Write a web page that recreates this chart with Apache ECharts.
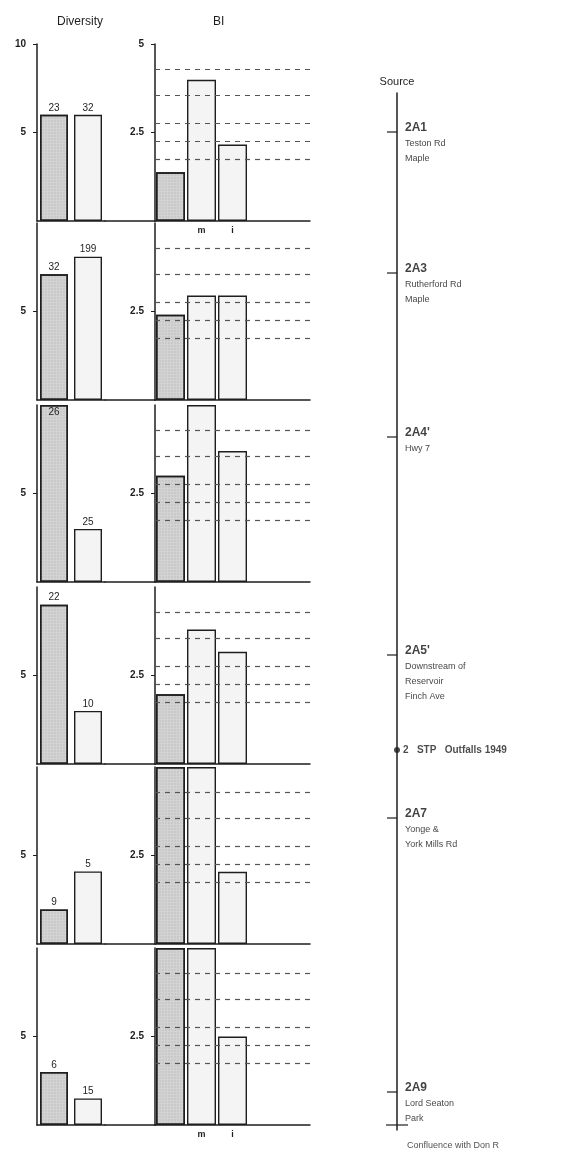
<!DOCTYPE html>
<html>
<head>
<meta charset="utf-8">
<script src="https://cdn.jsdelivr.net/npm/echarts@6/dist/echarts.min.js"></script>
<style>
  html, body { margin: 0; padding: 0; background: #fff; }
  #main { width: 561px; height: 1160px; }
</style>
</head>
<body>
<div id="main"></div>
<script>
// Diversity column, one value per station (top to bottom)
var divShaded = [6.0, 7.1, 10, 9.0, 1.95, 3.0]
var divLight = [6.0, 8.1, 3.0, 3.0, 4.1, 1.5]
var divShadedN = ['23', '32', '26', '22', '9', '6']   // numbers printed on the bars
var divLightN = ['32', '199', '25', '10', '5', '15']

// BI column
var biCats = ['', 'm', 'i', '', '']
var biShaded = [1.38, 2.41, 3.0, 1.97, 5, 5]
var biM = [3.99, 2.95, 5, 3.8, 5, 5]
var biI = [2.16, 2.95, 3.7, 3.17, 2.04, 2.5]
var biRefLines = [4.3, 3.55, 2.77, 2.25, 1.75]  // dashed class lines

// stations down the river (distance from source, drawing units)
var stationCodes = ['2A1', '2A3', "2A4'", "2A5'", '2A7', '2A9']
var stationPlaces = ['Teston Rd\nMaple', 'Rutherford Rd\nMaple', 'Hwy 7',
  'Downstream of\nReservoir\nFinch Ave', 'Yonge &\nYork Mills Rd', 'Lord Seaton\nPark']
var stationPos = [39, 180, 344, 562, 725, 999]
var stpPos = 657
var mouthPos = 1032
var riverLength = 1037

var FONT = 'Liberation Sans'
var INK = '#1e1e1e'
var rowTop = [44, 223, 405, 587, 767, 948]
var rowH = 177

var shadedStyle = {
  color: '#d3d3d3', borderColor: INK, borderWidth: 1.5,
  decal: { symbol: 'circle', symbolSize: 0.9, dashArrayX: [2, 1], dashArrayY: [2, 1], color: 'rgba(0,0,0,0.07)' }
}
var lightStyle = { color: '#f4f4f4', borderColor: INK, borderWidth: 1.4 }
var axisLine = { show: true, lineStyle: { color: INK, width: 1.5 } }

var grid = [], xAxis = [], yAxis = [], series = []

for (var r = 0; r < 6; r++) {
  var g = grid.length
  var first = r === 0
  var last = r === 5

  // diversity
  grid.push({ left: 37, top: rowTop[r], width: 68, height: rowH })
  xAxis.push({ gridIndex: g, type: 'category', data: ['a', 'b'], axisLine: axisLine,
    axisTick: { show: false }, axisLabel: { show: false } })
  yAxis.push({ gridIndex: g, type: 'value', min: 0, max: 10, interval: 5, axisLine: axisLine,
    splitLine: { show: false },
    axisTick: { show: true, length: 4, lineStyle: { color: INK }, customValues: first ? [5, 10] : [5] },
    axisLabel: { margin: 11, color: INK, fontSize: 10, fontWeight: 'bold', fontFamily: FONT,
      customValues: first ? [5, 10] : [5] } })
  series.push({
    type: 'bar', xAxisIndex: g, yAxisIndex: g, barWidth: 28,
    label: { show: true, color: INK, fontSize: 10, fontFamily: FONT, distance: 2 },
    data: [
      { value: divShaded[r], itemStyle: shadedStyle,
        label: { formatter: divShadedN[r], position: divShaded[r] >= 10 ? 'insideTop' : 'top' } },
      { value: divLight[r], itemStyle: lightStyle,
        label: { formatter: divLightN[r], position: divLight[r] >= 10 ? 'insideTop' : 'top' } }
    ]
  })

  // baseline between the two panels
  grid.push({ left: 105, top: rowTop[r], width: 50, height: rowH })
  xAxis.push({ gridIndex: g + 1, type: 'category', data: [''], axisLine: axisLine,
    axisTick: { show: false }, axisLabel: { show: false } })
  yAxis.push({ gridIndex: g + 1, type: 'value', show: false })

  // BI
  grid.push({ left: 155, top: rowTop[r], width: 155, height: rowH })
  xAxis.push({ gridIndex: g + 2, type: 'category', data: biCats, axisLine: axisLine,
    axisTick: { show: false },
    axisLabel: { show: first || last, margin: 5, color: INK, fontSize: 9, fontWeight: 'bold', fontFamily: FONT } })
  yAxis.push({ gridIndex: g + 2, type: 'value', min: 0, max: 5, interval: 2.5, axisLine: axisLine,
    splitLine: { show: false },
    axisTick: { show: true, length: 4, lineStyle: { color: INK }, customValues: first ? [2.5, 5] : [2.5] },
    axisLabel: { margin: 11, color: INK, fontSize: 10, fontWeight: 'bold', fontFamily: FONT,
      customValues: first ? [2.5, 5] : [2.5] } })
  series.push({
    type: 'bar', xAxisIndex: g + 2, yAxisIndex: g + 2, barWidth: 29,
    data: [
      { value: biShaded[r], itemStyle: shadedStyle },
      { value: biM[r], itemStyle: lightStyle },
      { value: biI[r], itemStyle: lightStyle },
      '-', '-'
    ],
    markLine: {
      silent: true, symbol: 'none', label: { show: false },
      lineStyle: { type: [5, 5], color: '#555', width: 1.2 },
      data: biRefLines.map(function (v) { return { yAxis: v } })
    }
  })
}

// river line on the right
var rg = grid.length
grid.push({ left: 397, top: 93, width: 2, height: 1037 })
xAxis.push({ gridIndex: rg, type: 'value', min: 0, max: 2, show: false })
yAxis.push({ gridIndex: rg, type: 'value', inverse: true, min: 0, max: riverLength,
  axisLine: axisLine, axisTick: { show: false }, axisLabel: { show: false }, splitLine: { show: false },
  name: 'Source', nameLocation: 'start', nameGap: 6,
  nameTextStyle: { fontSize: 11, color: INK, fontFamily: FONT } })

series.push({
  type: 'scatter', xAxisIndex: rg, yAxisIndex: rg,
  symbol: 'rect', symbolSize: [10, 1.5], symbolOffset: [-5, 0],
  itemStyle: { color: INK },
  label: {
    show: true, position: 'right', verticalAlign: 'top', offset: [3, -12],
    color: '#111', fontFamily: FONT,
    formatter: function (p) {
      var i = p.dataIndex
      return '{a|' + stationCodes[i] + '}\n{b|' + stationPlaces[i].split('\n').join('}\n{b|') + '}'
    },
    rich: {
      a: { fontSize: 12, lineHeight: 16, color: '#111', fontWeight: 'bold', fontFamily: FONT },
      b: { fontSize: 9, lineHeight: 15, color: '#111', fontFamily: FONT }
    }
  },
  data: stationPos.map(function (p) { return [0, p] })
})
series.push({
  type: 'scatter', xAxisIndex: rg, yAxisIndex: rg,
  symbol: 'circle', symbolSize: 6, itemStyle: { color: INK },
  label: { show: true, position: 'right', distance: 3, formatter: '2   STP   Outfalls 1949',
    fontSize: 10, fontWeight: 'bold', color: INK, fontFamily: FONT },
  data: [[0, stpPos]]
})
series.push({
  type: 'scatter', xAxisIndex: rg, yAxisIndex: rg,
  symbol: 'rect', symbolSize: [22, 1.5], itemStyle: { color: INK },
  label: { show: true, position: 'bottom', distance: 15, offset: [56, 0], formatter: 'Confluence with Don R',
    fontSize: 9, color: INK, fontFamily: FONT },
  data: [[0, mouthPos]]
})

var chart = echarts.init(document.getElementById('main'), null, { renderer: 'canvas' })
chart.setOption({
  animation: false,
  backgroundColor: '#ffffff',
  textStyle: { fontFamily: FONT },
  title: [
    { text: 'Diversity', left: 52, top: 11, textStyle: { fontSize: 12, fontWeight: 'normal', color: INK, fontFamily: FONT } },
    { text: 'BI', left: 208, top: 11, textStyle: { fontSize: 12, fontWeight: 'normal', color: INK, fontFamily: FONT } }
  ],
  grid: grid,
  xAxis: xAxis,
  yAxis: yAxis,
  series: series
})
</script>
</body>
</html>
